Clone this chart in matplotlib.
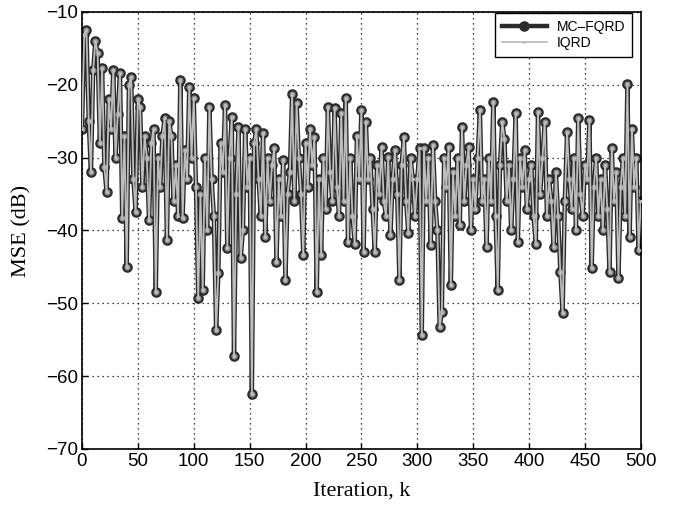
import numpy as np
import matplotlib
matplotlib.use("Agg")
import matplotlib.pyplot as plt

# Iteration index (every 2nd iteration)
iterations = np.arange(0, 501, 2)

# MSE (dB) of MC-FQRD
mc_fqrd = [
    -26, -13, -12.5, -25, -32, -18, -14, -15.6, -28, -17.7,
    -31.3, -34.7, -22, -26, -18, -30, -24, -18.4, -38.3, -27,
    -45, -20, -18.9, -33, -37.5, -22, -23, -34, -27, -30,
    -38.6, -28, -26, -48.5, -30, -34, -27, -24.6, -41.3, -25,
    -27, -36, -31, -38, -19.3, -38.3, -29, -33, -20.3, -30,
    -21.8, -34, -49.3, -35, -48.2, -30, -40, -23, -33, -38,
    -53.7, -45.9, -28, -32, -22.8, -42.4, -30, -24.4, -57.3, -35,
    -25.8, -43.8, -40, -26, -34, -30, -62.5, -28, -26, -33,
    -38, -26.6, -40.9, -30, -36, -31, -28.7, -44.3, -33, -38,
    -30.3, -46.8, -35, -32, -21.2, -36, -22.5, -30, -35, -43.4,
    -28, -34, -26, -31, -27.2, -48.5, -33, -43.4, -30, -37,
    -23, -32, -36, -23.2, -34, -38, -23.9, -36, -21.8, -41.6,
    -30, -38, -41.8, -27, -33, -23.5, -43, -25.1, -33, -30,
    -37, -43, -31, -35, -28.5, -36, -38, -29.9, -40.6, -33,
    -29, -35, -46.8, -31, -27.2, -36, -40.4, -30, -33, -38,
    -33, -28.7, -54.4, -28.7, -36, -30, -42, -28.3, -36, -40,
    -53.3, -51.2, -30, -34, -28.5, -47.5, -32, -38, -30, -39.3,
    -25.8, -36, -31, -28.5, -40, -33, -37, -30, -23.5, -36,
    -33, -42.3, -30, -36, -22.3, -38, -48.2, -31, -25.1, -27.4,
    -36, -31, -40, -33, -23.9, -41.6, -30, -34, -29, -37,
    -33, -31, -38, -41.8, -23.7, -35, -30, -25.1, -38, -33,
    -36, -42.3, -32, -38, -45.7, -51.3, -36, -26.5, -33, -37,
    -30, -40, -24.6, -35, -38, -31, -33, -24.8, -45.1, -34,
    -30, -38, -33, -40, -31, -37, -45.7, -28.7, -36, -32,
    -46.5, -34, -30, -38, -19.9, -40.9, -26, -34, -30, -42.7,
    -36,
]

# IQRD gives the same learning curve (equivalent algorithm)
iqrd = list(mc_fqrd)

x_ticks = [0, 50, 100, 150, 200, 250, 300, 350, 400, 450, 500]
y_ticks = [-70, -60, -50, -40, -30, -20, -10]

fig = plt.figure(figsize=(6.81, 5.14), dpi=100)
ax = fig.add_axes([0.1204, 0.1265, 0.8206, 0.8502])

ax.plot(iterations, mc_fqrd, color="#2a2a2a", lw=3.2, marker="o",
        markersize=6, markerfacecolor="#8c8c8c", markeredgecolor="#2a2a2a",
        markeredgewidth=1.6, label="MC\u2013FQRD", zorder=2)
ax.plot(iterations, iqrd, color="#bdbdbd", lw=1.3, marker=".",
        markersize=2.5, label="IQRD", zorder=3)

ax.set_xlim(0, 500)
ax.set_ylim(-70, -10)
ax.set_xticks(x_ticks)
ax.set_yticks(y_ticks)
ax.tick_params(direction="in", length=4, width=1, labelsize=13.5, pad=3,
               top=False, right=False)
for lab in ax.get_xticklabels() + ax.get_yticklabels():
    lab.set_fontfamily("Liberation Sans")

ax.grid(True, linestyle=(0, (1, 3)), color="black", linewidth=0.9)
for s in ax.spines.values():
    s.set_linewidth(1.2)

ax.set_xlabel("Iteration, k", fontsize=16, family="Liberation Serif", labelpad=8)
ax.set_ylabel("MSE (dB)", fontsize=16, family="Liberation Serif", labelpad=10)

leg = ax.legend(loc="upper right", frameon=True, fancybox=False,
                edgecolor="black", framealpha=1, borderpad=0.45,
                handlelength=3.3, handletextpad=0.7, labelspacing=0.2,
                borderaxespad=0.0, bbox_to_anchor=(0.984, 0.997),
                prop={"family": "Liberation Sans", "size": 10})
leg.get_frame().set_linewidth(1.0)
h0 = leg.legend_handles[0]
h0.set_markerfacecolor("#2a2a2a")

fig.savefig("out.png", dpi=100)
